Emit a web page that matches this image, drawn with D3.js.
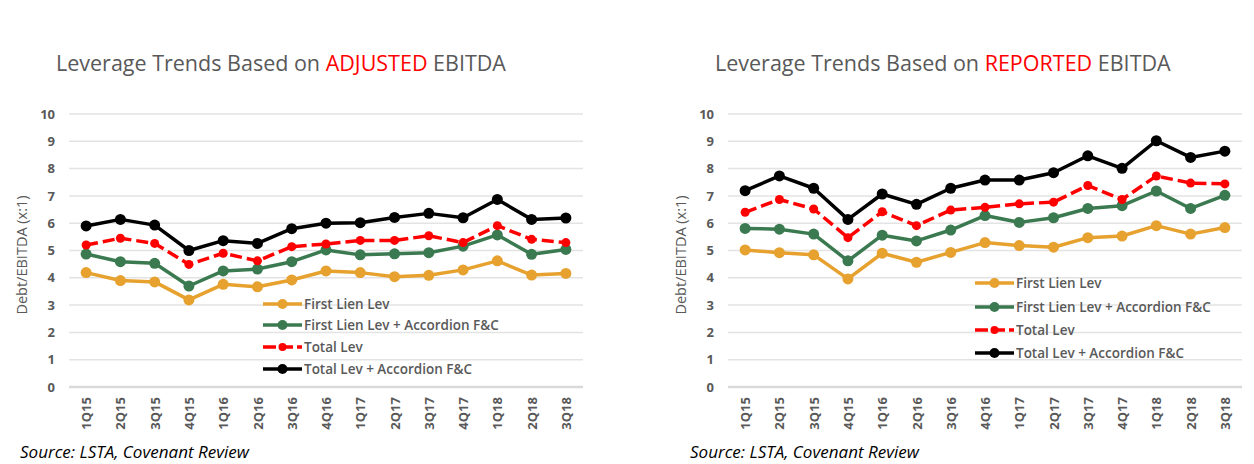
<!DOCTYPE html>
<html>
<head>
<meta charset="utf-8">
<script src="https://cdn.jsdelivr.net/npm/d3@7"></script>
<style>
  body { margin: 0; background: #fff; }
  svg { display: block; font-family: "Open Sans", sans-serif; }
</style>
</head>
<body>
<div id="chart"></div>
<script>
const quarters = ["1Q15", "2Q15", "3Q15", "4Q15", "1Q16", "2Q16", "3Q16", "4Q16",
                  "1Q17", "2Q17", "3Q17", "4Q17", "1Q18", "2Q18", "3Q18"];
const yTicks = [0, 1, 2, 3, 4, 5, 6, 7, 8, 9, 10];
const seriesNames = ["First Lien Lev", "First Lien Lev + Accordion F&C", "Total Lev", "Total Lev + Accordion F&C"];

// adjusted EBITDA
const adjFirstLien    = [4.19, 3.90, 3.85, 3.19, 3.76, 3.67, 3.92, 4.25, 4.19, 4.04, 4.09, 4.29, 4.62, 4.10, 4.16];
const adjFirstLienAcc = [4.87, 4.59, 4.53, 3.70, 4.25, 4.32, 4.59, 5.02, 4.84, 4.88, 4.92, 5.16, 5.57, 4.86, 5.04];
const adjTotal        = [5.20, 5.45, 5.26, 4.49, 4.90, 4.62, 5.14, 5.24, 5.37, 5.37, 5.54, 5.29, 5.91, 5.41, 5.29];
const adjTotalAcc     = [5.90, 6.14, 5.93, 5.00, 5.36, 5.26, 5.80, 6.00, 6.02, 6.21, 6.36, 6.20, 6.87, 6.14, 6.19];

// reported EBITDA
const repFirstLien    = [5.02, 4.92, 4.84, 3.96, 4.90, 4.57, 4.93, 5.29, 5.18, 5.12, 5.47, 5.53, 5.91, 5.60, 5.84];
const repFirstLienAcc = [5.81, 5.78, 5.60, 4.62, 5.56, 5.35, 5.75, 6.28, 6.03, 6.20, 6.54, 6.64, 7.18, 6.54, 7.02];
const repTotal        = [6.40, 6.87, 6.52, 5.47, 6.42, 5.91, 6.48, 6.58, 6.71, 6.77, 7.38, 6.87, 7.73, 7.47, 7.44];
const repTotalAcc     = [7.19, 7.73, 7.28, 6.14, 7.07, 6.69, 7.28, 7.58, 7.58, 7.85, 8.47, 8.01, 9.02, 8.41, 8.64];

const colors = ["#e6a12e", "#3b7a50", "#ff0000", "#000000"];
const gray = "#595959";

const svg = d3.select("#chart").append("svg")
    .attr("width", 1254)
    .attr("height", 464);

function drawChart(opts) {
    const g = svg.append("g").attr("transform", `translate(${opts.ox},0)`);

    const x = d3.scalePoint()
        .domain(quarters)
        .range([69, 583])
        .padding(0.5);

    const y = d3.scaleLinear()
        .domain([0, 10])
        .range([387, 114]);

    // gridlines
    g.append("g")
        .selectAll("line")
        .data(yTicks)
        .enter()
        .append("line")
        .attr("x1", 69)
        .attr("x2", 583)
        .attr("y1", d => y(d))
        .attr("y2", d => y(d))
        .attr("stroke", d => d === 0 ? "#d9d9d9" : "#e3e3e3")
        .attr("stroke-width", d => d === 0 ? 2.5 : 1.5);

    // y axis labels
    const yAxis = d3.axisLeft(y).tickValues(yTicks).tickSize(0).tickPadding(14);
    const ya = g.append("g").attr("transform", "translate(69,0)").call(yAxis);
    ya.select(".domain").remove();
    ya.selectAll("text")
        .attr("fill", gray)
        .attr("font-size", "13px")
        .attr("font-weight", "bold")
        .attr("font-family", "Open Sans, sans-serif");

    // x axis labels
    const xAxis = d3.axisBottom(x).tickSize(0);
    const xa = g.append("g").attr("transform", "translate(0,387)").call(xAxis);
    xa.select(".domain").remove();
    xa.selectAll("text")
        .attr("transform", "rotate(-90)")
        .attr("x", -10)
        .attr("y", 0)
        .attr("dy", "0.35em")
        .attr("text-anchor", "end")
        .attr("fill", gray)
        .attr("font-size", "13px")
        .attr("font-weight", "bold")
        .attr("font-family", "Open Sans, sans-serif");

    // y axis title
    g.append("text")
        .attr("transform", "translate(27,255) rotate(-90)")
        .attr("text-anchor", "middle")
        .attr("fill", gray)
        .attr("font-size", "14.5px")
        .text("Debt/EBITDA (x:1)");

    // lines
    const line = d3.line()
        .x((d, i) => x(quarters[i]))
        .y(d => y(d));

    opts.series.forEach((s, k) => {
        g.append("path")
            .datum(s)
            .attr("fill", "none")
            .attr("stroke", colors[k])
            .attr("stroke-width", 3.5)
            .attr("stroke-linejoin", "round")
            .attr("stroke-dasharray", k === 2 ? "12,5" : null)
            .attr("d", line);

        g.append("g")
            .selectAll("circle")
            .data(s)
            .enter()
            .append("circle")
            .attr("cx", (d, i) => x(quarters[i]))
            .attr("cy", d => y(d))
            .attr("r", k === 2 ? 4.5 : 5.5)
            .attr("fill", colors[k]);
    });

    // legend
    const leg = g.append("g")
        .selectAll("g")
        .data(seriesNames)
        .enter()
        .append("g")
        .attr("transform", (d, i) => `translate(${opts.legX},${opts.legY[i]})`);

    leg.append("line")
        .attr("x1", 0)
        .attr("x2", 39)
        .attr("stroke", (d, i) => colors[i])
        .attr("stroke-width", 3.5)
        .attr("stroke-dasharray", (d, i) => i === 2 ? "13,4" : null);

    leg.append("circle")
        .attr("cx", 19.5)
        .attr("r", (d, i) => i === 2 ? 4 : 5)
        .attr("fill", (d, i) => colors[i]);

    leg.append("text")
        .attr("x", 41)
        .attr("dy", "0.35em")
        .attr("fill", gray)
        .attr("font-size", "13.5px")
        .attr("font-weight", "600")
        .text(d => d);

    // title
    const title = g.append("text")
        .attr("x", 56)
        .attr("y", 71)
        .attr("fill", gray)
        .attr("font-size", "21.5px")
        .text("Leverage Trends Based on ");
    title.append("tspan").attr("fill", "#ff0000").text(opts.word);
    title.append("tspan").text(" EBITDA");

    // source
    svg.append("text")
        .attr("x", opts.srcX)
        .attr("y", 458)
        .attr("fill", "#000")
        .attr("font-size", "17px")
        .attr("font-style", "italic")
        .text("Source: LSTA, Covenant Review");
}

drawChart({
    ox: 0,
    word: "ADJUSTED",
    series: [adjFirstLien, adjFirstLienAcc, adjTotal, adjTotalAcc],
    legX: 263,
    legY: [304, 325, 347, 369],
    srcX: 20
});

drawChart({
    ox: 659,
    word: "REPORTED",
    series: [repFirstLien, repFirstLienAcc, repTotal, repTotalAcc],
    legX: 316,
    legY: [283, 307, 330, 353],
    srcX: 690
});
</script>
</body>
</html>
